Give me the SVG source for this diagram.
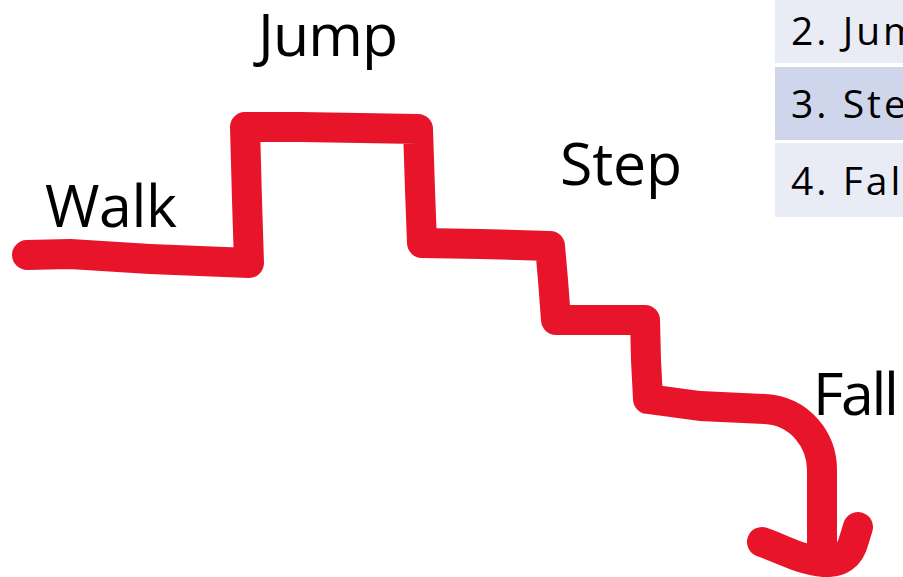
<svg xmlns="http://www.w3.org/2000/svg" width="903" height="577" viewBox="0 0 903 577">
  <style>
    .label { font-family: "Open Sans", "Liberation Sans", sans-serif; font-size: 59px; fill: #000; }
    .cell-text { font-family: "Open Sans", "Liberation Sans", sans-serif; font-size: 39px; letter-spacing: 3px; fill: #000; }
    .light { fill: #e9ebf5; }
    .dark { fill: #cfd5ea; }
    .stroke { fill: none; stroke: #e8152a; stroke-width: 30; stroke-linecap: round; stroke-linejoin: round; }
  </style>
  <rect width="903" height="577" fill="#ffffff"/>

  <!-- list table, cut off at the right edge -->
  <g id="table">
    <g id="row-jump">
      <rect class="light" x="775" y="-10" width="140" height="73"/>
      <text class="cell-text" x="791" y="45">2. Jump</text>
    </g>
    <g id="row-step">
      <rect class="dark" x="775" y="67" width="140" height="73"/>
      <text class="cell-text" x="791" y="118">3. Step</text>
    </g>
    <g id="row-fall">
      <rect class="light" x="775" y="143" width="140" height="74"/>
      <text class="cell-text" x="791" y="195">4. Fall</text>
    </g>
  </g>

  <!-- hand-drawn route: walk, jump, steps, fall -->
  <g id="connectors">
    <path class="stroke" d="M27 255 L70 254 L150 259 L249 263 L247 200 L245 127 L300 127 L360 128 L418 129 L420 190 L422 243 L480 244 L550 246 L553 280 L556 320 L600 320 L645 320 L646 360 L648 399 L700 406 L765 409 C800 411 822 440 822 470 L822 557"/>
    <path class="stroke" d="M762 542 C780 548 800 560 824 562 C840 563 850 556 854 540 L858 527"/>
  </g>

  <!-- stage labels -->
  <g id="label-walk"><text class="label" x="45" y="227" textLength="132">Walk</text></g>
  <g id="label-jump"><text class="label" x="258" y="56" textLength="140">Jump</text></g>
  <g id="label-step"><text class="label" x="560" y="185" textLength="122">Step</text></g>
  <g id="label-fall"><text class="label" x="813" y="415" textLength="86">Fall</text></g>
</svg>
